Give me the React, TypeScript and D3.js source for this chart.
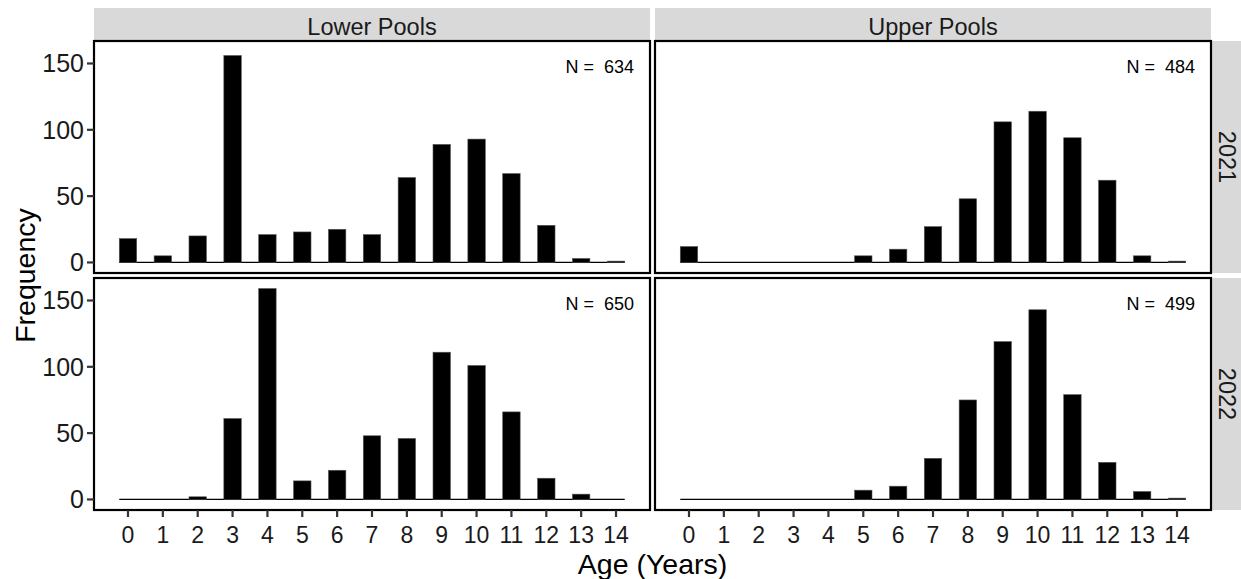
import React from "react";
import * as d3 from "d3";

const ages = [0, 1, 2, 3, 4, 5, 6, 7, 8, 9, 10, 11, 12, 13, 14];
const pools = ["Lower Pools", "Upper Pools"];
const years = ["2021", "2022"];
const lower2021 = [18, 5, 20, 156, 21, 23, 25, 21, 64, 89, 93, 67, 28, 3, 1];
const upper2021 = [12, 0, 0, 0, 0, 5, 10, 27, 48, 106, 114, 94, 62, 5, 1];
const lower2022 = [0, 0, 2, 61, 159, 14, 22, 48, 46, 111, 101, 66, 16, 4, 0];
const upper2022 = [0, 0, 0, 0, 0, 7, 10, 31, 75, 119, 143, 79, 28, 6, 1];
const yTicks = [0, 50, 100, 150];
const nLabels = [["634", "484"], ["650", "499"]];

const W = 1241;
const H = 579;
const FONT = "'Liberation Sans', Arial, sans-serif";

export default function App() {
  const series = [
    [lower2021, upper2021],
    [lower2022, upper2022],
  ];
  const barW = 0.5;
  const panelX = [94, 655];
  const panelW = 556;
  const panelY = [41, 278];
  const panelH = 232;
  const stripTop = 8;
  const stripRightX = 1212;
  const stripRightW = 29;

  const allMax = d3.max(series.flat(2)) as number;
  const yDomain: [number, number] = [-0.05 * allMax, 1.05 * allMax];
  const xr0 = -barW / 2;
  const xr1 = 14 + barW / 2;
  const xpad = 0.05 * (xr1 - xr0);
  const xDomain: [number, number] = [xr0 - xpad, xr1 + xpad];

  return (
    <svg width={W} height={H} style={{ display: "block", position: "absolute", left: 0, top: 0 }} fontFamily={FONT}>
      <rect x={0} y={0} width={W} height={H} fill="#fff" />
      {pools.map((p, c) => (
        <g key={p}>
          <rect x={panelX[c]} y={stripTop} width={panelW} height={panelY[0] - stripTop} fill="#D9D9D9" />
          <text x={panelX[c] + panelW / 2} y={35} textAnchor="middle" fontSize={23.5} fill="#1A1A1A">
            {p}
          </text>
        </g>
      ))}
      {years.map((yr, r) => {
        const cx = stripRightX + stripRightW / 2;
        const cy = panelY[r] + panelH / 2;
        return (
          <g key={yr}>
            <rect x={stripRightX} y={panelY[r]} width={stripRightW} height={panelH} fill="#D9D9D9" />
            <text
              x={cx}
              y={cy}
              transform={`rotate(90 ${cx} ${cy})`}
              textAnchor="middle"
              dominantBaseline="central"
              fontSize={23.5}
              fill="#1A1A1A"
            >
              {yr}
            </text>
          </g>
        );
      })}
      {years.map((yr, r) =>
        pools.map((p, c) => {
          const x = d3.scaleLinear().domain(xDomain).range([panelX[c], panelX[c] + panelW]);
          const y = d3.scaleLinear().domain(yDomain).range([panelY[r] + panelH, panelY[r]]);
          const vals = series[r][c];
          return (
            <g key={yr + p}>
              <rect x={panelX[c]} y={panelY[r]} width={panelW} height={panelH} fill="#fff" />
              <line x1={x(xr0)} x2={x(xr1)} y1={y(0)} y2={y(0)} stroke="#000" strokeWidth={1.2} />
              {ages.map((a, i) =>
                vals[i] > 0 ? (
                  <rect
                    key={a}
                    x={x(a - barW / 2)}
                    width={x(a + barW / 2) - x(a - barW / 2)}
                    y={y(vals[i])}
                    height={y(0) - y(vals[i])}
                    fill="#000"
                    stroke="#555"
                    strokeWidth={0.6}
                  />
                ) : null
              )}
              <text
                x={panelX[c] + panelW - 16}
                y={panelY[r] + 32}
                textAnchor="end"
                fontSize={18}
                fill="#000"
                style={{ whiteSpace: "pre" }}
              >
                {"N =  " + nLabels[r][c]}
              </text>
              <rect x={panelX[c]} y={panelY[r]} width={panelW} height={panelH} fill="none" stroke="#000" strokeWidth={2.2} />
              {c === 0 &&
                yTicks.map((t) => (
                  <g key={t}>
                    <line x1={panelX[c] - 7} x2={panelX[c]} y1={y(t)} y2={y(t)} stroke="#333" strokeWidth={2.2} />
                    <text x={panelX[c] - 10} y={y(t)} dy="0.35em" textAnchor="end" fontSize={25} fill="#1A1A1A">
                      {t}
                    </text>
                  </g>
                ))}
              {r === 1 &&
                ages.map((a) => (
                  <g key={a}>
                    <line x1={x(a)} x2={x(a)} y1={panelY[r] + panelH} y2={panelY[r] + panelH + 7} stroke="#333" strokeWidth={2.2} />
                    <text x={x(a)} y={543} textAnchor="middle" fontSize={23} fill="#1A1A1A">
                      {a}
                    </text>
                  </g>
                ))}
            </g>
          );
        })
      )}
      <text x={(panelX[0] + panelX[1] + panelW) / 2} y={574} textAnchor="middle" fontSize={28.5} fill="#000">
        Age (Years)
      </text>
      <text
        x={0}
        y={0}
        transform={`translate(25 ${(panelY[0] + panelY[1] + panelH) / 2}) rotate(-90)`}
        textAnchor="middle"
        dominantBaseline="central"
        fontSize={28.5}
        fill="#000"
      >
        Frequency
      </text>
    </svg>
  );
}
